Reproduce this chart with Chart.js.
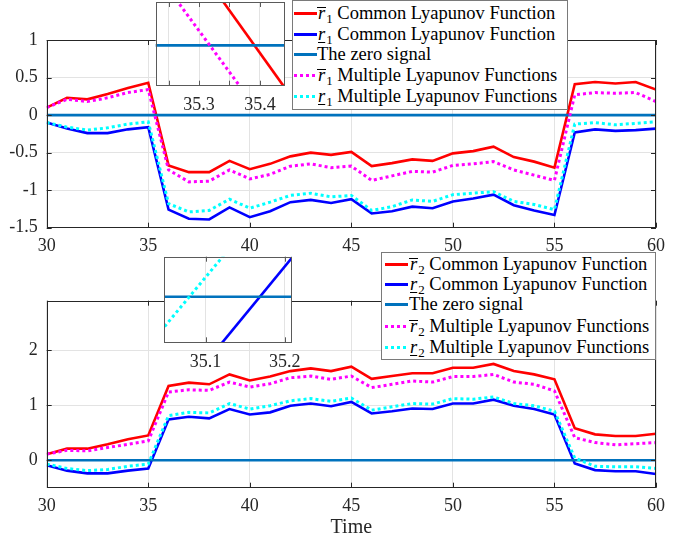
<!DOCTYPE html>
<html lang="en">
<head>
  <meta charset="UTF-8">
  <title>Lyapunov bounds r1 / r2</title>
  <script src="https://cdn.jsdelivr.net/npm/chart.js"></script>
  <style>
    body { margin: 0; background: #fff; font-family: "Liberation Serif", "Times New Roman", serif; }
    #fig { position: relative; width: 673px; height: 544px; overflow: hidden; }
    #fig canvas { position: absolute; }
    .legend {
      position: absolute;
      background: #fff;
      border: 1px solid #7a7a7a;
      font-family: "Liberation Serif", "Times New Roman", serif;
      font-size: 18.5px;
      color: #000;
      box-sizing: border-box;
    }
    .row { position: absolute; height: 21px; line-height: 21px; white-space: nowrap; }
    .sample { position: absolute; top: 9px; width: 23px; height: 3px; }
    .txt { position: absolute; }
    .ov { display: inline-block; line-height: 0.6em; border-top: 1px solid #000; padding: 0 1px; }
    .un { text-decoration: underline; text-decoration-thickness: 1px; text-underline-offset: 2px; padding: 0 1px; }
    sub { font-size: 0.7em; vertical-align: -0.3em; line-height: 0; }
  </style>
</head>
<body>
<div id="fig">
  <canvas id="top" width="673" height="260" style="left:0;top:0"></canvas>
  <canvas id="bottom" width="673" height="294" style="left:0;top:250px"></canvas>
  <canvas id="zoomTop" width="145" height="115" style="left:150px;top:0"></canvas>
  <canvas id="zoomBottom" width="150" height="120" style="left:160px;top:252px"></canvas>
  <div class="legend" id="leg1" style="left:292px;top:0;width:276px;height:110px"></div>
  <div class="legend" id="leg2" style="left:381px;top:252px;width:275px;height:108px"></div>
</div>

<script>
  // time axis
  const time = [30, 31, 32, 33, 34, 35, 36, 37, 38, 39, 40, 41, 42, 43, 44, 45,
                46, 47, 48, 49, 50, 51, 52, 53, 54, 55, 56, 57, 58, 59, 60];
  const zeroSignal = [0, 0, 0, 0, 0, 0, 0, 0, 0, 0, 0, 0, 0, 0, 0, 0,
                      0, 0, 0, 0, 0, 0, 0, 0, 0, 0, 0, 0, 0, 0, 0];

  // subplot 1 : r1 bounds
  const r1UpperCommon = [0.10, 0.23, 0.21, 0.28, 0.36, 0.43, -0.67, -0.76, -0.76, -0.61, -0.72, -0.65, -0.55, -0.50, -0.53, -0.49,
                         -0.68, -0.64, -0.59, -0.61, -0.51, -0.48, -0.42, -0.56, -0.62, -0.70, 0.41, 0.44, 0.42, 0.44, 0.34];
  const r1LowerCommon = [-0.10, -0.18, -0.24, -0.24, -0.19, -0.16, -1.26, -1.38, -1.39, -1.23, -1.36, -1.28, -1.16, -1.13, -1.17, -1.12,
                         -1.31, -1.28, -1.22, -1.24, -1.15, -1.11, -1.06, -1.20, -1.27, -1.33, -0.23, -0.19, -0.21, -0.20, -0.18];
  const r1UpperMultiple = [0.10, 0.21, 0.18, 0.23, 0.30, 0.34, -0.73, -0.89, -0.88, -0.73, -0.85, -0.79, -0.68, -0.65, -0.70, -0.68,
                           -0.87, -0.81, -0.75, -0.76, -0.67, -0.65, -0.62, -0.73, -0.80, -0.87, 0.27, 0.30, 0.29, 0.30, 0.18];
  const r1LowerMultiple = [-0.10, -0.16, -0.20, -0.17, -0.12, -0.09, -1.18, -1.29, -1.27, -1.12, -1.24, -1.16, -1.07, -1.04, -1.09, -1.07,
                           -1.27, -1.22, -1.13, -1.15, -1.06, -1.04, -1.02, -1.15, -1.19, -1.26, -0.12, -0.10, -0.13, -0.11, -0.09];

  // subplot 2 : r2 bounds
  const r2UpperCommon = [0.11, 0.21, 0.21, 0.29, 0.38, 0.45, 1.35, 1.41, 1.38, 1.56, 1.45, 1.52, 1.62, 1.67, 1.62, 1.70,
                         1.48, 1.53, 1.58, 1.58, 1.68, 1.68, 1.75, 1.62, 1.56, 1.47, 0.58, 0.47, 0.44, 0.44, 0.48];
  const r2LowerCommon = [-0.09, -0.19, -0.24, -0.24, -0.19, -0.15, 0.74, 0.79, 0.76, 0.93, 0.83, 0.87, 0.99, 1.03, 0.98, 1.06,
                         0.85, 0.89, 0.94, 0.93, 1.03, 1.03, 1.10, 0.99, 0.93, 0.83, -0.06, -0.18, -0.20, -0.20, -0.25];
  const r2UpperMultiple = [0.11, 0.18, 0.17, 0.23, 0.29, 0.35, 1.24, 1.28, 1.27, 1.42, 1.33, 1.39, 1.50, 1.53, 1.47, 1.53,
                           1.32, 1.38, 1.44, 1.42, 1.52, 1.52, 1.56, 1.42, 1.38, 1.26, 0.41, 0.32, 0.28, 0.30, 0.32];
  const r2LowerMultiple = [-0.07, -0.15, -0.19, -0.17, -0.11, -0.07, 0.81, 0.87, 0.86, 1.03, 0.93, 0.99, 1.08, 1.12, 1.07, 1.13,
                           0.91, 0.97, 1.03, 1.02, 1.12, 1.11, 1.15, 1.03, 0.99, 0.89, 0.04, -0.11, -0.12, -0.12, -0.15];

  // axis ticks
  const timeTicks = [30, 35, 40, 45, 50, 55, 60];
  const yTicksTop = [-1.5, -1, -0.5, 0, 0.5, 1];
  const yTicksBottom = [0, 1, 2];
  const zoomTicksTop = [35.25, 35.3, 35.35, 35.4];
  const zoomLabelsTop = [35.3, 35.4];
  const zoomTicksBottom = [35.1, 35.2];

  const FONT = "'Liberation Serif', 'Times New Roman', serif";
  const AXIS_COLOR = '#262626';
  const GRID_COLOR = '#e3e3e3';

  const seriesStyle = [
    { label: 'upperCommon', color: '#ff0000', dash: [], width: 2.6, order: 4 },
    { label: 'lowerCommon', color: '#0000ff', dash: [], width: 2.6, order: 3 },
    { label: 'zero', color: '#0072bd', dash: [], width: 2.6, order: 2 },
    { label: 'upperMultiple', color: '#ff00ff', dash: [3, 3], width: 3, order: 1 },
    { label: 'lowerMultiple', color: '#00ffff', dash: [3, 3], width: 3, order: 0 }
  ];

  function makeDatasets(seriesList) {
    return seriesList.map((vals, i) => ({
      label: seriesStyle[i].label,
      data: vals.map((v, k) => ({ x: time[k], y: v })),
      borderColor: seriesStyle[i].color,
      borderWidth: seriesStyle[i].width,
      borderDash: seriesStyle[i].dash,
      borderCapStyle: 'butt',
      pointRadius: 0,
      tension: 0,
      order: seriesStyle[i].order
    }));
  }

  // axes box + inward tick marks like matlab
  const boxPlugin = {
    id: 'box',
    beforeDraw(chart, args, opts) {
      if (!opts.fill) return;
      const a = chart.chartArea;
      chart.ctx.save();
      chart.ctx.fillStyle = '#fff';
      chart.ctx.fillRect(a.left, a.top, a.right - a.left, a.bottom - a.top);
      chart.ctx.restore();
    },
    afterDraw(chart, args, opts) {
      const { ctx, chartArea: a, scales } = chart;
      ctx.save();
      ctx.strokeStyle = opts.color || AXIS_COLOR;
      ctx.lineWidth = 1;
      ctx.strokeRect(Math.round(a.left) + 0.5, Math.round(a.top) + 0.5,
                     Math.round(a.right - a.left) - 1, Math.round(a.bottom - a.top) - 1);
      const len = 5;
      ctx.beginPath();
      scales.x.ticks.forEach(t => {
        const px = Math.round(scales.x.getPixelForValue(t.value)) + 0.5;
        ctx.moveTo(px, a.bottom); ctx.lineTo(px, a.bottom - len);
        ctx.moveTo(px, a.top); ctx.lineTo(px, a.top + len);
      });
      if (scales.y.options.display) {
        scales.y.ticks.forEach(t => {
          const py = Math.round(scales.y.getPixelForValue(t.value)) + 0.5;
          ctx.moveTo(a.left, py); ctx.lineTo(a.left + len, py);
          ctx.moveTo(a.right, py); ctx.lineTo(a.right - len, py);
        });
      }
      ctx.stroke();
      ctx.restore();
    }
  };

  function mainChart(id, seriesList, yMin, yMax, yTicks, padTop, xHeight, withTitle) {
    return new Chart(document.getElementById(id), {
      type: 'line',
      data: { datasets: makeDatasets(seriesList) },
      plugins: [boxPlugin],
      options: {
        responsive: false,
        animation: false,
        events: [],
        layout: { padding: { left: 0, top: padTop, right: 9.7, bottom: 0 } },
        plugins: { legend: { display: false }, tooltip: { enabled: false }, box: { fill: false } },
        scales: {
          x: {
            type: 'linear',
            min: 30,
            max: 60,
            afterBuildTicks: s => { s.ticks = timeTicks.map(v => ({ value: v })); },
            afterFit: s => { s.height = xHeight; },
            grid: { color: GRID_COLOR, drawTicks: false },
            border: { display: false },
            ticks: { autoSkip: false, maxRotation: 0, padding: 8, color: AXIS_COLOR,
                      font: { family: FONT, size: 18 }, callback: v => String(v) },
            title: withTitle ? { display: true, text: 'Time', color: AXIS_COLOR,
                                 font: { family: FONT, size: 20 }, padding: { top: 0, bottom: 4 } } : { display: false }
          },
          y: {
            min: yMin,
            max: yMax,
            afterBuildTicks: s => { s.ticks = yTicks.map(v => ({ value: v })); },
            afterFit: s => { s.width = 46.7; },
            grid: { color: GRID_COLOR, drawTicks: false },
            border: { display: false },
            ticks: { autoSkip: false, padding: 9, color: AXIS_COLOR,
                      font: { family: FONT, size: 18 }, callback: v => String(v) }
          }
        }
      }
    });
  }

  function zoomChart(id, seriesList, xMin, xMax, yMin, yMax, ticks, labels, pad, xHeight) {
    return new Chart(document.getElementById(id), {
      type: 'line',
      data: { datasets: makeDatasets(seriesList) },
      plugins: [boxPlugin],
      options: {
        responsive: false,
        animation: false,
        events: [],
        layout: { padding: pad },
        plugins: { legend: { display: false }, tooltip: { enabled: false }, box: { fill: true, color: '#5a5a5a' } },
        scales: {
          x: {
            type: 'linear',
            min: xMin,
            max: xMax,
            afterBuildTicks: s => { s.ticks = ticks.map(v => ({ value: v })); },
            afterFit: s => { s.height = xHeight; },
            grid: { color: GRID_COLOR, drawTicks: false },
            border: { display: false },
            ticks: { autoSkip: false, maxRotation: 0, padding: 9, color: AXIS_COLOR,
                      font: { family: FONT, size: 18 },
                      callback: v => labels.some(l => Math.abs(l - v) < 1e-6) ? v.toFixed(1) : '' }
          },
          y: { display: false, min: yMin, max: yMax }
        }
      }
    });
  }

  const top1 = [r1UpperCommon, r1LowerCommon, zeroSignal, r1UpperMultiple, r1LowerMultiple];
  const bot2 = [r2UpperCommon, r2LowerCommon, zeroSignal, r2UpperMultiple, r2LowerMultiple];

  mainChart('top', top1, -1.5, 1, yTicksTop, 40, 32.3, false);
  mainChart('bottom', bot2, -0.5, 2.9, yTicksBottom, 50.7, 56.3, true);

  zoomChart('zoomTop', top1, 35.229, 35.441, -0.052, 0.056, zoomTicksTop, zoomLabelsTop,
            { left: 5.7, top: 2, right: 10, bottom: 0 }, 29.3);
  zoomChart('zoomBottom', bot2, 35.048, 35.209, -0.042, 0.037, zoomTicksBottom, zoomTicksBottom,
            { left: 4.3, top: 4.7, right: 7.7, bottom: 0 }, 29.7);

  // legends (html so the overline / underline symbols stay real text)
  const legendText = [
    ['ov', 'Common Lyapunov Function'],
    ['un', 'Common Lyapunov Function'],
    [null, 'The zero signal'],
    ['ov', 'Multiple Lyapunov Functions'],
    ['un', 'Multiple Lyapunov Functions']
  ];

  function buildLegend(id, idx, rowTops, lineLeft, textLeft) {
    const box = document.getElementById(id);
    legendText.forEach((entry, i) => {
      const st = seriesStyle[i];
      const row = document.createElement('div');
      row.className = 'row';
      row.style.top = rowTops[i] + 'px';
      row.style.left = '0px';
      const sample = document.createElement('span');
      sample.className = 'sample';
      sample.style.left = lineLeft + 'px';
      sample.style.background = st.dash.length
        ? `repeating-linear-gradient(90deg, ${st.color} 0 3px, transparent 3px 6px)`
        : st.color;
      row.appendChild(sample);
      const txt = document.createElement('span');
      txt.className = 'txt';
      txt.style.left = textLeft + 'px';
      txt.innerHTML = entry[0]
        ? `<i class="${entry[0]}">r</i><sub>${idx}</sub> ${entry[1]}`
        : entry[1];
      row.appendChild(txt);
      box.appendChild(row);
    });
  }

  buildLegend('leg1', 1, [2, 23, 43, 64, 85], 1, 24);
  buildLegend('leg2', 2, [1, 21, 41, 63, 84], 3, 27);
</script>
</body>
</html>
